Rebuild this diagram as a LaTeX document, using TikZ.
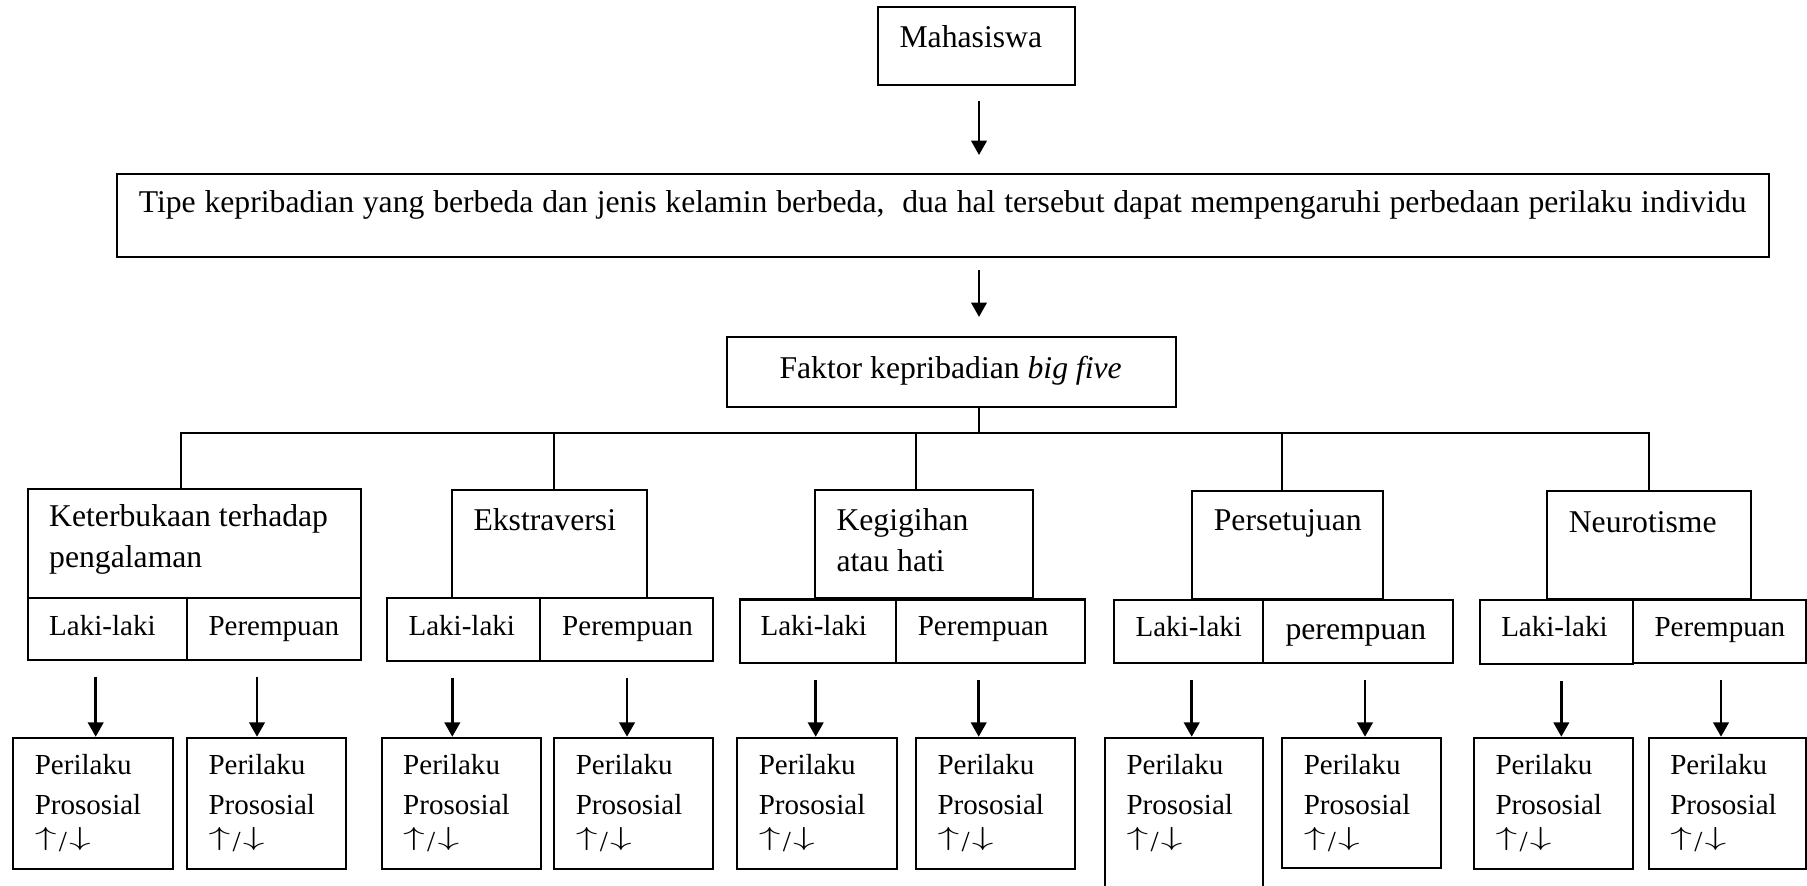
\documentclass[tikz,border=0pt]{standalone}
\usepackage{fontspec}
\setmainfont{Liberation Serif}
\usetikzlibrary{arrows.meta,fit}

\newcommand{\hurufbesar}{\fontsize{12}{15.4}\selectfont}
\newcommand{\hurufkecil}{\fontsize{11}{14.9}\selectfont}
\newcommand{\naik}{\raisebox{1.9pt}{\scalebox{1.5}[0.9]{$\uparrow$}}}
\newcommand{\turun}{\raisebox{1.9pt}{\scalebox{1.5}[0.9]{$\downarrow$}}}

\tikzset{kotak/.style={draw, line width=0.8pt, inner sep=0pt}}
\tikzset{judul/.style={anchor=base west, inner sep=0pt, align=left, font=\hurufbesar}}
\tikzset{isi/.style={anchor=base west, inner sep=0pt, align=left, font=\hurufkecil}}
\tikzset{garis/.style={line width=0.8pt}}
\tikzset{panah/.style={-{Triangle[length=5.4pt,width=5.8pt]}, line width=1pt}}

\begin{document}
\begin{tikzpicture}[x=0.3788pt, y=-0.3788pt]
\useasboundingbox (0,0) rectangle (1807,886);

% bagian atas
\node[kotak, fit={(878,7) (1075,85)}] (mhs) {};
\node[judul] (tmhs) at (899,48) {Mahasiswa};
\node[kotak, fit={(116.7,174) (1769.3,256.7)}] (tipe) {};
\node[judul] (ttipe) at (138.3,213) {\makebox[609pt][s]{Tipe kepribadian yang berbeda dan jenis kelamin berbeda, \ dua hal tersebut dapat mempengaruhi perbedaan perilaku individu}};
\node[kotak, fit={(727.3,337) (1175.7,407)}] (faktor) {};
\node[judul] (tfaktor) at (779,378) {Faktor kepribadian \textit{big five}};

\coordinate (sumbu) at (979,0);
\coordinate (cabang) at (979,432.9);

\draw[panah, shorten <=5.7pt, shorten >=6.8pt] (sumbu |- mhs.south) -- (sumbu |- tipe.north);
\draw[panah, shorten <=4.7pt, shorten >=7.2pt] (sumbu |- tipe.south) -- (sumbu |- faktor.north);
\draw[garis] (sumbu |- faktor.south) -- (cabang);

% lima faktor (baseline = baris terakhir)
\node[kotak, fit={(27.7,488.8) (360.7,598.4)}] (h1) {};
\node[judul] (th1) at (48.7,567.2) {Keterbukaan terhadap\\pengalaman};
\node[kotak, fit={(27.7,598.4) (187,659.8)}] (l1) {};
\node[isi] (tl1) at (48.7,635) {Laki-laki};
\node[kotak, fit={(187,598.4) (360.7,659.8)}] (r1) {};
\node[isi] (tr1) at (208,635) {Perempuan};

\node[kotak, fit={(452,489.6) (646.7,598.4)}] (h2) {};
\node[judul] (th2) at (473,530) {Ekstraversi};
\node[kotak, fit={(387.3,598.4) (540.3,660.6)}] (l2) {};
\node[isi] (tl2) at (408,635) {Laki-laki};
\node[kotak, fit={(540.3,598.4) (713.3,660.6)}] (r2) {};
\node[isi] (tr2) at (561.7,635) {Perempuan};

\node[kotak, fit={(814.7,489.6) (1032.7,598.4)}] (h3) {};
\node[judul] (th3) at (836,571.2) {Kegigihan\\atau hati};
\node[kotak, fit={(740,599.5) (896,662.7)}] (l3) {};
\node[isi] (tl3) at (760,635.9) {Laki-laki};
\node[kotak, fit={(896,599.5) (1085,662.7)}] (r3) {};
\node[isi] (tr3) at (917.3,635.9) {Perempuan};

\node[kotak, fit={(1191.7,490.6) (1382.7,598.8)}] (h4) {};
\node[judul] (th4) at (1213.3,530) {Persetujuan};
\node[kotak, fit={(1114,600.2) (1263.3,662.7)}] (l4) {};
\node[isi] (tl4) at (1135,636.4) {Laki-laki};
\node[kotak, fit={(1263.3,600.2) (1453.3,663.4)}] (r4) {};
\node[judul] (tr4) at (1285,639.6) {perempuan};

\node[kotak, fit={(1546.7,491.4) (1750.7,598.8)}] (h5) {};
\node[judul] (th5) at (1568.3,532.1) {Neurotisme};
\node[kotak, fit={(1480,600.2) (1633,664.4)}] (l5) {};
\node[isi] (tl5) at (1500.7,636.4) {Laki-laki};
\node[kotak, fit={(1633,600.2) (1806,663.4)}] (r5) {};
\node[isi] (tr5) at (1654,636.4) {Perempuan};

\draw[garis] (h1.north -| 180.7,0) -- (cabang -| 180.7,0) -- (cabang -| 1649,0) -- (h5.north -| 1649,0);
\foreach \dx/\h in {554/h2, 916/h3, 1282/h4}
  \draw[garis] (cabang -| \dx,0) -- (\h.north -| \dx,0);

% perilaku prososial
\foreach \nama/\xa/\xb/\yb in {pl1/13.3/173/869, pr1/187/346/869, pl2/381.7/540.7/869, pr2/554.3/713.3/869,
  pl3/737.3/896.7/869, pr3/916/1075/869, pl4/1105/1263.3/900, pr4/1282.3/1441/868.3,
  pl5/1474/1633/869, pr5/1648.7/1806/869}{
  \node[kotak, fit={(\xa,737.8) (\xb,\yb)}] (\nama) {};
  \node[isi] (t\nama) at ({\xa+21},851) {Perilaku\\Prososial\\[-0.9pt]\naik\kern0.08em/\kern0.08em\turun};
}

\foreach \ax/\src/\dst in {95.7/l1/pl1, 257/r1/pr1, 452.3/l2/pl2, 627/r2/pr2, 815.7/l3/pl3,
  978.7/r3/pr3, 1191.7/l4/pl4, 1365/r4/pr4, 1561.3/l5/pl5, 1721/r5/pr5}
  \draw[panah, shorten <=6pt] (\src.south -| \ax,0) -- (\dst.north -| \ax,0);

\end{tikzpicture}
\end{document}
